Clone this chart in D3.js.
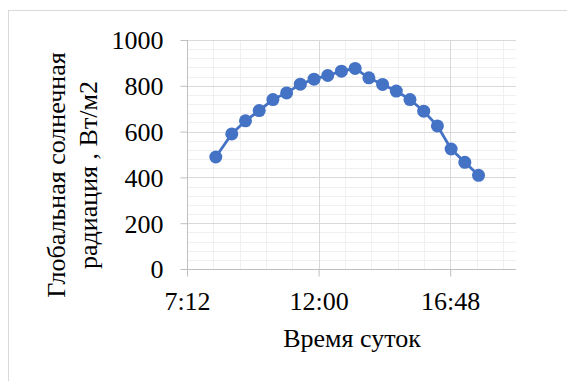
<!DOCTYPE html>
<html>
<head>
<meta charset="utf-8">
<script src="https://cdn.jsdelivr.net/npm/d3@7"></script>
<style>
  body { margin: 0; background: #fff; }
</style>
</head>
<body>
<div id="chart"></div>
<script>
// time of day for each measurement
var times = ["8:15", "8:50", "9:20", "9:50", "10:20", "10:50", "11:20", "11:50", "12:20", "12:50",
             "13:20", "13:50", "14:20", "14:50", "15:20", "15:50", "16:20", "16:50", "17:20", "17:50"];
// global solar radiation, W/m2
var radiation = [489, 590, 647, 692, 740, 769, 807, 829, 845, 864,
                 876, 835, 806, 777, 740, 689, 625, 524, 466, 409];
var xTickLabels = ["7:12", "12:00", "16:48"];
var yTicks = [0, 200, 400, 600, 800, 1000];

var w = 567;
var h = 381;
var font = "Liberation Serif";
var fontSize = 26;

// convert "h:mm" to fraction of a day (like Excel does)
function dayFrac(s) {
  var p = s.split(":");
  return (+p[0] * 60 + +p[1]) / 1440;
}

var data = times.map(function (t, i) {
  return { x: dayFrac(t), y: radiation[i] };
});

var svg = d3.select("#chart").append("svg")
  .attr("width", w)
  .attr("height", h);

// outer chart border
svg.append("rect")
  .attr("x", 8.5).attr("y", 10.5)
  .attr("width", 600).attr("height", 400)
  .attr("fill", "none")
  .attr("stroke", "#d9d9d9");

var xScale = d3.scaleLinear().domain([0.3, 0.8]).range([187, 516]);
var yScale = d3.scaleLinear().domain([0, 1000]).range([269, 40]);

// minor gridlines
var xMinor = d3.range(0.3, 0.8001, 0.04);
var yMinor = d3.range(0, 1000.1, 40);
svg.append("g").selectAll("line").data(yMinor).enter().append("line")
  .attr("x1", xScale(0.3)).attr("x2", xScale(0.8))
  .attr("y1", function (d) { return Math.round(yScale(d)) + 0.5; })
  .attr("y2", function (d) { return Math.round(yScale(d)) + 0.5; })
  .attr("stroke", "#f0f0f0");
svg.append("g").selectAll("line").data(xMinor).enter().append("line")
  .attr("y1", yScale(0)).attr("y2", yScale(1000))
  .attr("x1", function (d) { return Math.round(xScale(d)) + 0.5; })
  .attr("x2", function (d) { return Math.round(xScale(d)) + 0.5; })
  .attr("stroke", "#f0f0f0");

// major gridlines
var xMajor = [0.3, 0.5, 0.7];
svg.append("g").selectAll("line").data(yTicks).enter().append("line")
  .attr("x1", xScale(0.3)).attr("x2", xScale(0.8))
  .attr("y1", function (d) { return Math.round(yScale(d)) + 0.5; })
  .attr("y2", function (d) { return Math.round(yScale(d)) + 0.5; })
  .attr("stroke", "#d9d9d9");
svg.append("g").selectAll("line").data(xMajor).enter().append("line")
  .attr("y1", yScale(0)).attr("y2", yScale(1000))
  .attr("x1", function (d) { return Math.round(xScale(d)) + 0.5; })
  .attr("x2", function (d) { return Math.round(xScale(d)) + 0.5; })
  .attr("stroke", "#d9d9d9");

// axes
var xAxis = d3.axisBottom(xScale)
  .tickValues(xMajor)
  .tickSize(7)
  .tickFormat(function (d, i) { return xTickLabels[i]; });
var yAxis = d3.axisLeft(yScale)
  .tickValues(yTicks)
  .tickSize(7)
  .tickFormat(d3.format("d"));

var gx = svg.append("g")
  .attr("transform", "translate(0," + (Math.round(yScale(0)) + 0.5) + ")")
  .call(xAxis)
  .attr("font-family", font)
  .attr("font-size", fontSize);
gx.select(".domain").attr("stroke", "#bfbfbf").attr("d", "M" + xScale(0.3) + ",0H" + xScale(0.8));
gx.selectAll(".tick line").attr("stroke", "#bfbfbf");
gx.selectAll(".tick text")
  .attr("font-family", font)
  .attr("font-size", fontSize)
  .attr("fill", "#000")
  .attr("dy", "0")
  .attr("y", 40);

var gy = svg.append("g")
  .attr("transform", "translate(" + (Math.round(xScale(0.3)) + 0.5) + ",0)")
  .call(yAxis)
  .attr("font-family", font)
  .attr("font-size", fontSize);
gy.select(".domain").attr("stroke", "#bfbfbf").attr("d", "M0," + yScale(0) + "V" + yScale(1000));
gy.selectAll(".tick line").attr("stroke", "#bfbfbf");
gy.selectAll(".tick text")
  .attr("font-family", font)
  .attr("font-size", fontSize)
  .attr("fill", "#000")
  .attr("x", -24)
  .attr("dy", "0.34em");

// series line and markers
var line = d3.line()
  .x(function (d) { return xScale(d.x); })
  .y(function (d) { return yScale(d.y); });

svg.append("path")
  .datum(data)
  .attr("d", line)
  .attr("fill", "none")
  .attr("stroke", "#4472c4")
  .attr("stroke-width", 2.8);

svg.append("g").selectAll("circle").data(data).enter().append("circle")
  .attr("cx", function (d) { return xScale(d.x); })
  .attr("cy", function (d) { return yScale(d.y); })
  .attr("r", 6.5)
  .attr("fill", "#4472c4");

// axis titles
svg.append("text")
  .attr("x", 352).attr("y", 347)
  .attr("text-anchor", "middle")
  .attr("font-family", font)
  .attr("font-size", fontSize)
  .text("Время суток");

var yTitle = svg.append("text")
  .attr("transform", "translate(65,175) rotate(-90)")
  .attr("text-anchor", "middle")
  .attr("font-family", font)
  .attr("font-size", fontSize);
yTitle.append("tspan").attr("x", 0).attr("y", 0).text("Глобальная солнечная");
yTitle.append("tspan").attr("x", 0).attr("y", 32).text("радиация , Вт/м2");
</script>
</body>
</html>
